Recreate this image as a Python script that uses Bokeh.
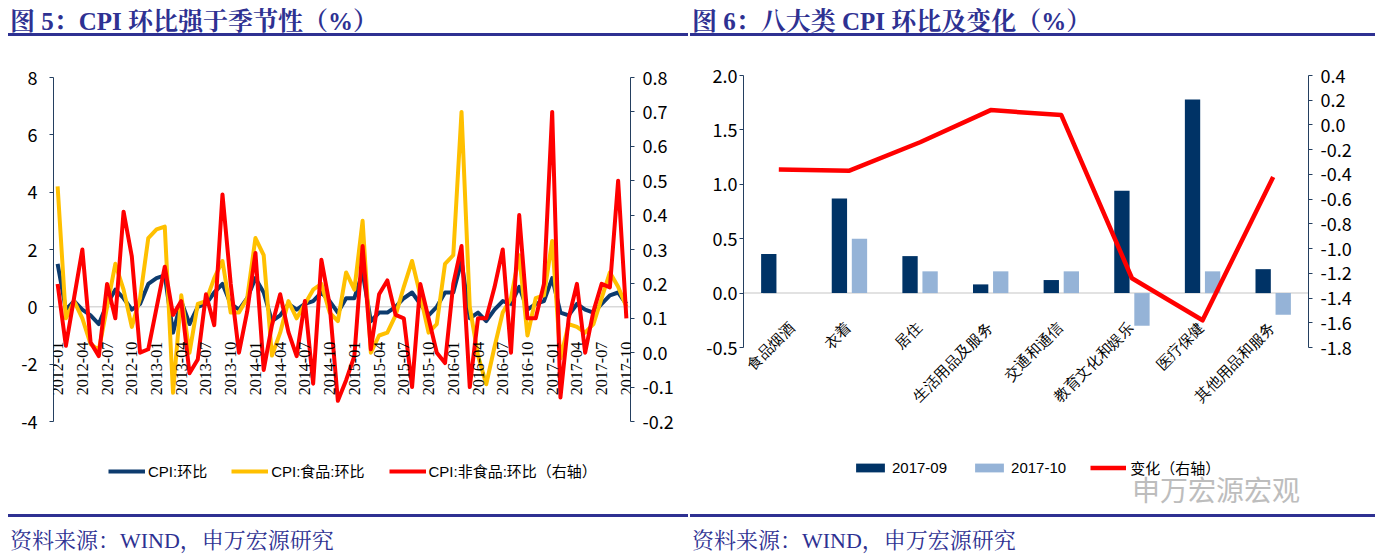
import numpy as np
from bokeh.plotting import figure
from bokeh.models import (Range1d, LinearAxis, FixedTicker, PrintfTickFormatter, Span,
                          Legend, LegendItem, LabelSet, ColumnDataSource, Label, Div, FactorRange)
from bokeh.layouts import row, column
from bokeh.embed import file_html
from bokeh.resources import INLINE
from bokeh.transform import dodge

# ---------------- data: figure 5 ----------------
months = [f"{y}-{m:02d}" for y in range(2012, 2018) for m in range(1, 13)][:70]
cpi_mom = [1.5, -0.1, 0.2, -0.1, -0.3, -0.6, 0.1, 0.6, 0.3, -0.1, 0.1, 0.8,
           1.0, 1.1, -0.9, 0.2, -0.6, 0.0, 0.1, 0.5, 0.8, 0.1, -0.1, 0.3,
           1.0, 0.5, -0.5, -0.3, 0.1, -0.1, 0.1, 0.2, 0.5, 0.2, -0.2, 0.3,
           0.3, 1.2, -0.5, -0.2, -0.2, 0.0, 0.3, 0.5, 0.1, -0.3, 0.0, 0.5,
           0.5, 1.6, -0.4, -0.2, -0.5, -0.1, 0.2, 0.1, 0.7, -0.1, 0.1, 0.2,
           1.0, -0.2, -0.3, 0.1, -0.1, -0.2, 0.1, 0.4, 0.5, 0.1]
food_mom = [4.2, -0.4, 0.2, -0.4, -1.3, -1.5, 0.0, 1.5, 0.6, -0.7, 0.3, 2.4,
            2.7, 2.8, -3.0, 0.4, -1.6, 0.1, 0.2, 1.0, 1.6, -0.2, -0.2, 0.3,
            2.4, 1.8, -1.7, -0.9, 0.2, -0.4, 0.1, 0.6, 0.8, -0.2, -0.5, 1.2,
            0.6, 3.0, -1.6, -1.0, -0.9, -0.3, 0.7, 1.6, 0.4, -0.9, -0.6, 1.5,
            1.8, 6.8, 0.0, -1.7, -2.7, -1.4, -0.2, 0.3, 1.8, -1.0, 0.3, 0.4,
            2.3, -1.8, -0.6, -0.7, -0.9, -0.6, 0.3, 1.2, 0.7, 0.0]
nonfood_mom = [0.20, 0.02, 0.16, 0.30, 0.03, -0.01, 0.20, 0.10, 0.41, 0.28, 0.00, 0.01,
               0.13, 0.25, 0.11, 0.15, -0.06, -0.02, 0.17, 0.08, 0.46, 0.20, 0.00, 0.12,
               0.29, -0.05, 0.08, 0.17, 0.06, -0.01, 0.15, -0.09, 0.27, 0.14, -0.14, -0.08,
               -0.01, 0.31, 0.01, 0.17, 0.21, 0.11, 0.10, -0.10, 0.20, 0.10, 0.00, -0.03,
               0.20, 0.31, -0.10, 0.10, 0.10, 0.19, 0.30, 0.00, 0.40, 0.10, 0.10, 0.20,
               0.70, -0.13, 0.10, 0.20, 0.00, 0.12, 0.20, 0.19, 0.50, 0.10]
left_ticks = [-4, -2, 0, 2, 4, 6, 8]
right_ticks = [-0.2, -0.1, 0.0, 0.1, 0.2, 0.3, 0.4, 0.5, 0.6, 0.7, 0.8]

# ---------------- data: figure 6 ----------------
categories = ["食品烟酒", "衣着", "居住", "生活用品及服务", "交通和通信", "教育文化和娱乐", "医疗保健", "其他用品和服务"]
sep_2017 = [0.36, 0.87, 0.34, 0.08, 0.12, 0.94, 1.78, 0.22]
oct_2017 = [0.0, 0.5, 0.2, 0.2, 0.2, -0.3, 0.2, -0.2]
change = [-0.36, -0.37, -0.14, 0.12, 0.08, -1.24, -1.58, -0.42]
bar_left_ticks = [-0.5, 0.0, 0.5, 1.0, 1.5, 2.0]
bar_right_ticks = [-1.8, -1.6, -1.4, -1.2, -1.0, -0.8, -0.6, -0.4, -0.2, 0.0, 0.2, 0.4]

NAVY = "#2E3192"
AXIS = "#243F60"
NARROW = "'Liberation Sans Narrow', 'Arial Narrow', 'Noto Sans CJK SC', sans-serif"
SANS = "'Liberation Sans', 'Noto Sans CJK SC', sans-serif"
CJK = "'Noto Sans CJK SC', sans-serif"
SERIF = "'Liberation Serif', 'Noto Serif CJK SC', 'Noto Sans CJK SC', serif"

FIG_H = 470          # figure height (page y 44 .. 514)


def style_axis(ax, standoff):
    ax.axis_line_color = AXIS
    ax.axis_line_width = 1
    ax.major_tick_line_color = AXIS
    ax.major_tick_out = 4
    ax.major_tick_in = 0
    ax.minor_tick_out = 0
    ax.minor_tick_in = 0
    ax.major_label_text_font = NARROW
    ax.major_label_text_font_size = "18px"
    ax.major_label_text_color = "#000000"
    ax.major_label_standoff = standoff


def title_div(txt, w, ml):
    html = (f'<div style="margin-left:{ml}px;width:{w-ml-2}px;padding-top:4px;height:36px;line-height:36px;'
            f'border-bottom:3px solid {NAVY};color:{NAVY};font-family:{SERIF};'
            f'font-weight:bold;font-size:25px;white-space:nowrap;"><span style="padding-left:2px">{txt}</span></div>')
    return Div(text=html, width=w, height=44, margin=0)


def foot_div(txt, w, ml):
    html = (f'<div style="margin-left:{ml}px;width:{w-ml-2}px;border-top:3px solid {NAVY};padding-top:12px;'
            f'color:{NAVY};font-family:{SERIF};font-size:22px;line-height:24px;white-space:nowrap;">'
            f'<span style="padding-left:2px">{txt}</span></div>')
    return Div(text=html, width=w, height=42, margin=0)


def extended_start(top, bottom, axis_px, frame_px):
    # lower range bound so that [bottom, top] occupies axis_px of a frame of frame_px
    return top - (top - bottom) * frame_px / axis_px


# ================= figure 5 =================
x_idx = list(range(len(months)))
src1 = ColumnDataSource(dict(x=x_idx, cpi=cpi_mom, food=food_mom, nonfood=nonfood_mom))

top1 = 33
frame1 = FIG_H - top1
p1 = figure(width=690, height=FIG_H, x_range=Range1d(-0.5, len(months) - 0.5),
            y_range=Range1d(extended_start(8, -4, 344, frame1), 8),
            output_backend="svg", toolbar_location=None, x_axis_location=None,
            min_border_left=53, min_border_right=60, min_border_top=top1, min_border_bottom=0, margin=0)
p1.extra_y_ranges = {"r": Range1d(extended_start(0.8, -0.2, 344, frame1), 0.8)}
p1.outline_line_color = None
p1.xgrid.visible = False
p1.ygrid.visible = False
p1.yaxis.ticker = FixedTicker(ticks=left_ticks)
p1.yaxis.formatter = PrintfTickFormatter(format="%d")
p1.yaxis.bounds = (min(left_ticks), max(left_ticks))
style_axis(p1.yaxis[0], 12)
rax1 = LinearAxis(y_range_name="r", ticker=FixedTicker(ticks=right_ticks),
                  formatter=PrintfTickFormatter(format="%.1f"), bounds=(min(right_ticks), max(right_ticks)))
style_axis(rax1, 8)
p1.add_layout(rax1, "right")

p1.add_layout(Span(location=0, dimension="width", line_color="#D9D9D9", line_width=1.5, level="underlay"))

r_cpi = p1.line("x", "cpi", source=src1, line_color="#0D3B6E", line_width=4, line_join="round")
r_food = p1.line("x", "food", source=src1, line_color="#FFC000", line_width=4, line_join="round")
r_nf = p1.line("x", "nonfood", source=src1, y_range_name="r", line_color="#FF0000", line_width=4,
               line_join="round")

tick_src = ColumnDataSource(dict(x=x_idx[::3], y=[0] * len(x_idx[::3]), t=months[::3]))
p1.add_layout(LabelSet(x="x", y="y", text="t", source=tick_src, angle=np.pi / 2, text_align="right",
                       text_baseline="middle", y_offset=-35, text_font="'Liberation Sans', sans-serif",
                       text_font_size="16px", text_color="#000000"))

leg1 = Legend(items=[LegendItem(label="CPI:环比", renderers=[r_cpi]),
                     LegendItem(label="CPI:食品:环比", renderers=[r_food]),
                     LegendItem(label="CPI:非食品:环比（右轴）", renderers=[r_nf])],
              orientation="horizontal", location=(55, 33), glyph_width=37, glyph_height=16,
              label_height=16, label_standoff=3, spacing=24, padding=0, margin=0,
              border_line_color=None, background_fill_alpha=0,
              label_text_font=SANS, label_text_font_size="15px", label_text_color="#000000")
p1.add_layout(leg1)

# ================= figure 6 =================
src2 = ColumnDataSource(dict(cat=categories, sep=sep_2017, oct=oct_2017, chg=change))
top2 = 31
frame2 = FIG_H - top2
p2 = figure(width=687, height=FIG_H, x_range=FactorRange(factors=categories),
            y_range=Range1d(extended_start(2.0, -0.5, 272, frame2), 2.0),
            output_backend="svg", toolbar_location=None, x_axis_location=None,
            min_border_left=53, min_border_right=69, min_border_top=top2, min_border_bottom=0, margin=0)
p2.extra_y_ranges = {"r": Range1d(extended_start(0.4, -1.8, 272, frame2), 0.4)}
p2.outline_line_color = None
p2.xgrid.visible = False
p2.ygrid.visible = False
p2.yaxis.ticker = FixedTicker(ticks=bar_left_ticks)
p2.yaxis.formatter = PrintfTickFormatter(format="%.1f")
p2.yaxis.bounds = (min(bar_left_ticks), max(bar_left_ticks))
style_axis(p2.yaxis[0], 2)
rax2 = LinearAxis(y_range_name="r", ticker=FixedTicker(ticks=bar_right_ticks),
                  formatter=PrintfTickFormatter(format="%.1f"),
                  bounds=(min(bar_right_ticks), max(bar_right_ticks)))
style_axis(rax2, 8)
p2.add_layout(rax2, "right")
p2.add_layout(Span(location=0, dimension="width", line_color="#D9D9D9", line_width=1.5, level="underlay"))

b_sep = p2.vbar(x=dodge("cat", -0.142, range=p2.x_range), top="sep", width=0.217, source=src2,
                fill_color="#003366", line_color=None)
b_oct = p2.vbar(x=dodge("cat", 0.142, range=p2.x_range), top="oct", width=0.217, source=src2,
                fill_color="#95B3D7", line_color=None)
r_chg = p2.line("cat", "chg", source=src2, y_range_name="r", line_color="#FF0000", line_width=4.5,
                line_join="round")

# the first label would run past the plot's left edge (where it gets clipped): nudge it right
label_dx = [13] + [-1] * (len(categories) - 1)
cat_src = ColumnDataSource(dict(x=[i + 0.5 for i in range(len(categories))], y=[0] * len(categories),
                                t=categories, dx=label_dx))
p2.add_layout(LabelSet(x="x", y="y", text="t", source=cat_src, angle=np.pi / 4, text_align="right",
                       text_baseline="middle", y_offset=-32, x_offset="dx", text_font=CJK,
                       text_font_size="15px", text_color="#000000"))

leg2 = Legend(items=[LegendItem(label="2017-09", renderers=[b_sep]),
                     LegendItem(label="2017-10", renderers=[b_oct]),
                     LegendItem(label="变化（右轴）", renderers=[r_chg])],
              orientation="horizontal", location=(109, 36), glyph_width=36, glyph_height=11,
              label_height=11, label_standoff=4, spacing=24, padding=0, margin=0,
              border_line_color=None, background_fill_alpha=0,
              label_text_font=SANS, label_text_font_size="15px", label_text_color="#000000")
p2.add_layout(leg2)

p2.add_layout(Label(x=5.5, y=-1.80, text="申万宏源宏观", text_font=CJK, text_font_size="28px",
                    text_color="#BDBDBD", text_baseline="middle"))

left = column(title_div("图 5：CPI 环比强于季节性（%）", 690, 8), p1,
              foot_div("资料来源：WIND，申万宏源研究", 690, 8), margin=0)
right = column(title_div("图 6：八大类 CPI 环比及变化（%）", 687, 0), p2,
               foot_div("资料来源：WIND，申万宏源研究", 687, 0), margin=0)
layout = row(left, right, margin=0)

open("out.html", "w").write(file_html(layout, INLINE))
